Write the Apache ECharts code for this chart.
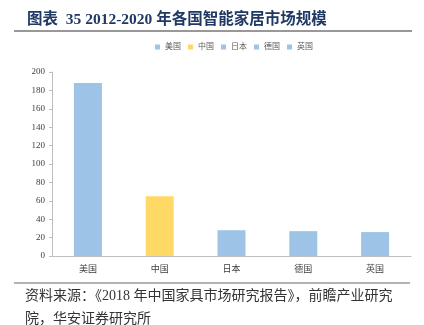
<!DOCTYPE html>
<html><head><meta charset="utf-8">
<script src="https://cdn.jsdelivr.net/npm/echarts@6/dist/echarts.min.js"></script>
<style>html,body{margin:0;padding:0;background:#fff}#c{width:424px;height:325px}</style>
</head><body><div id="c"></div>
<script>
const categories = ['美国', '中国', '日本', '德国', '英国'];
const values = [188, 65, 28, 27, 26];
const colors = ['#9dc3e6', '#ffd966', '#9dc3e6', '#9dc3e6', '#9dc3e6'];
const yTicks = { min: 0, max: 200, interval: 20 };

const serif = '"Liberation Serif", "Noto Sans CJK SC", serif';
const series = categories.map((name, i) => ({
  name: name,
  type: 'bar',
  stack: 'all',
  barWidth: 28,
  itemStyle: { color: colors[i] },
  data: categories.map((c, j) => (j === i ? values[i] : '-'))
}));

const chart = echarts.init(document.getElementById('c'));
chart.setOption({
  animation: false,
  title: {
    text: '图表  35 2012-2020 年各国智能家居市场规模',
    left: 22, top: 7,
    textStyle: { color: '#1f3864', fontSize: 15.5, fontWeight: 'bold', fontFamily: serif }
  },
  legend: {
    data: categories,
    top: 38, left: 150,
    itemWidth: 5, itemHeight: 5, itemGap: 7,
    icon: 'rect',
    textStyle: { fontSize: 8, color: '#595959', fontFamily: serif }
  },
  grid: { left: 52, right: 13, top: 72, bottom: 69 },
  xAxis: {
    type: 'category',
    data: categories,
    axisLine: { lineStyle: { color: '#bfbfbf' } },
    axisTick: { inside: true, length: 3, lineStyle: { color: '#bfbfbf' } },
    axisLabel: { fontSize: 9, color: '#404040', fontFamily: serif, margin: 9 }
  },
  yAxis: {
    type: 'value',
    min: yTicks.min, max: yTicks.max, interval: yTicks.interval,
    axisLine: { show: true, lineStyle: { color: '#bfbfbf' } },
    axisTick: { show: true, length: 3, lineStyle: { color: '#bfbfbf' } },
    splitLine: { show: false },
    axisLabel: { fontSize: 9, color: '#404040', fontFamily: serif, margin: 7 }
  },
  graphic: [
    { type: 'line', shape: { x1: 14, y1: 31, x2: 412, y2: 31 }, style: { stroke: '#333', lineWidth: 1 } },
    { type: 'line', shape: { x1: 14, y1: 283, x2: 410, y2: 283 }, style: { stroke: '#666', lineWidth: 1 } },
    { type: 'text', left: 25, top: 289, style: { text: '资料来源：《2018 年中国家具市场研究报告》，前瞻产业研究', fontSize: 14, fill: '#333', fontFamily: serif } },
    { type: 'text', left: 25, top: 312, style: { text: '院，华安证券研究所', fontSize: 14, fill: '#333', fontFamily: serif } }
  ],
  series: series
});
</script></body></html>
